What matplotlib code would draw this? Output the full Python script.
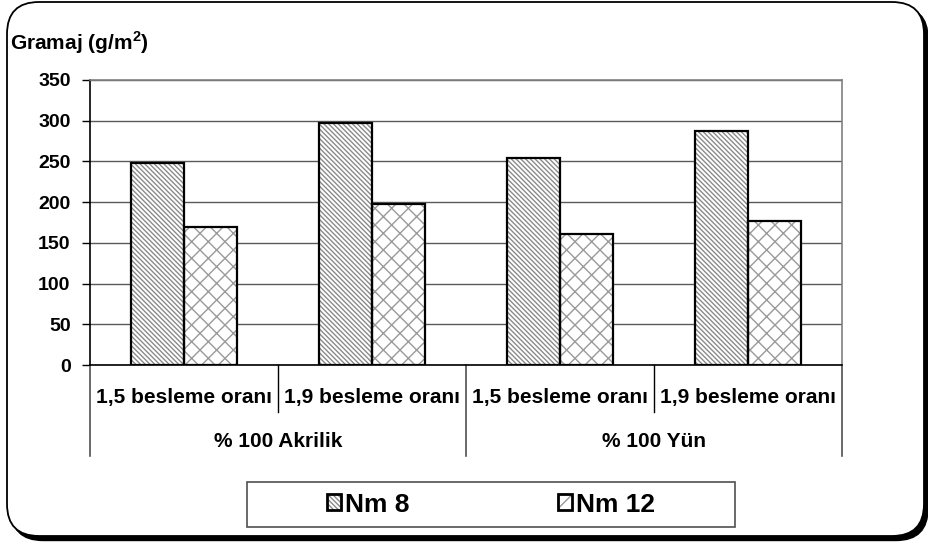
import matplotlib
matplotlib.use('Agg')
import matplotlib.pyplot as plt
from matplotlib.patches import Rectangle, FancyBboxPatch
from matplotlib.legend_handler import HandlerTuple
import matplotlib.transforms as mtransforms
import numpy as np

categories = ['1,5 besleme oranı', '1,9 besleme oranı', '1,5 besleme oranı', '1,9 besleme oranı']
groups = ['% 100 Akrilik', '% 100 Yün']
series_names = ['Nm 8', 'Nm 12']
nm8 = [248, 297, 254, 287]
nm12 = [170, 198, 161, 177]
yticks = [0, 50, 100, 150, 200, 250, 300, 350]
ylabel = r'Gramaj (g/m$^\mathbf{2}$)'

plt.rcParams['font.family'] = ['Liberation Sans', 'DejaVu Sans']
plt.rcParams['mathtext.fontset'] = 'custom'
plt.rcParams['mathtext.rm'] = 'Liberation Sans'
plt.rcParams['mathtext.bf'] = 'Liberation Sans:bold'
plt.rcParams['hatch.linewidth'] = 1.0

W, H = 929, 547
fig = plt.figure(figsize=(W / 100, H / 100), dpi=100)
fig.patch.set_facecolor('white')

# outer rounded frame with shadow
shadow = FancyBboxPatch((0.11, 0.065), 9.17, 5.34,
                        boxstyle='round,pad=0,rounding_size=0.32',
                        transform=fig.dpi_scale_trans, facecolor='black',
                        edgecolor='black', zorder=-3)
frame = FancyBboxPatch((0.07, 0.11), 9.17, 5.34,
                       boxstyle='round,pad=0,rounding_size=0.32',
                       transform=fig.dpi_scale_trans, facecolor='white',
                       edgecolor='black', linewidth=1.3, zorder=-2)
fig.add_artist(shadow)
fig.add_artist(frame)

ax = fig.add_axes([90 / W, (H - 365) / H, 752 / W, 285 / H])
ax.patch.set_alpha(0)

x = np.arange(len(categories))
w = 0.28
hatch_grey = '#8a8a8a'
hatch8 = '\\' * 7
hatch12 = 'xx'
ax.bar(x - w / 2, nm8, w, color='white', edgecolor=hatch_grey,
       hatch=hatch8, linewidth=0, zorder=2)
ax.bar(x - w / 2, nm8, w, fill=False, edgecolor='black', linewidth=1.6, zorder=3)
ax.bar(x + w / 2, nm12, w, color='white', edgecolor='#9a9a9a',
       hatch=hatch12, linewidth=0, zorder=2)
ax.bar(x + w / 2, nm12, w, fill=False, edgecolor='black', linewidth=1.6, zorder=3)

ax.set_xlim(-0.5, len(categories) - 0.5)
ax.set_ylim(0, 350)
ax.set_yticks(yticks)
ax.set_yticklabels([str(v) for v in yticks], fontsize=14, fontweight='bold')
ax.tick_params(axis='y', length=6, width=1, pad=8, direction='out')
ax.set_xticks([])
ax.set_axisbelow(True)
ax.yaxis.grid(True, color='#5a5a5a', linewidth=1.0)

for s in ['left', 'bottom']:
    ax.spines[s].set_color('black')
    ax.spines[s].set_linewidth(1.2)
for s in ['top', 'right']:
    ax.spines[s].set_color('#808080')
    ax.spines[s].set_linewidth(1.2)

trans = mtransforms.blended_transform_factory(ax.transData, ax.transAxes)
# short separators between categories within a group
for b in [0.5, 2.5]:
    ax.plot([b, b], [0, -0.165], transform=trans, color='black', lw=1, clip_on=False)
# long separators at group boundaries
for b in [-0.5, 1.5, 3.5]:
    ax.plot([b, b], [0, -0.32], transform=trans, color='#505050', lw=1.2, clip_on=False)

for i, c in enumerate(categories):
    ax.text(x[i], -0.114, c, transform=trans, ha='center', va='center',
            fontsize=15, fontweight='bold')
for g, name in enumerate(groups):
    ax.text(2 * g + 0.5, -0.27, name, transform=trans, ha='center', va='center',
            fontsize=15, fontweight='bold')

fig.text(10 / W, 1 - 43 / H, ylabel, ha='left', va='center',
         fontsize=15, fontweight='bold')

# legend
fig.add_artist(Rectangle((247 / W, (H - 527) / H), 488 / W, 45 / H,
                         transform=fig.transFigure, fill=False,
                         edgecolor='#505050', linewidth=1.2))
h8 = Rectangle((0, 0), 1, 1, facecolor='white', edgecolor=hatch_grey,
               hatch=hatch8, linewidth=0)
o8 = Rectangle((0, 0), 1, 1, fill=False, edgecolor='black', linewidth=2)
h12 = Rectangle((0, 0), 1, 1, facecolor='white', edgecolor='#9a9a9a',
                hatch='/', linewidth=0)
o12 = Rectangle((0, 0), 1, 1, fill=False, edgecolor='black', linewidth=2)
fig.legend(handles=[(h8, o8), (h12, o12)], labels=series_names,
           handler_map={tuple: HandlerTuple(ndivide=1)}, ncol=2,
           loc='center', bbox_to_anchor=(491 / W, (H - 504.5) / H),
           frameon=False, prop={'weight': 'bold', 'size': 19},
           handlelength=0.55, handleheight=0.55, handletextpad=0.15,
           columnspacing=5.6, borderpad=0)

fig.savefig('out.png', dpi=100, facecolor='white')
